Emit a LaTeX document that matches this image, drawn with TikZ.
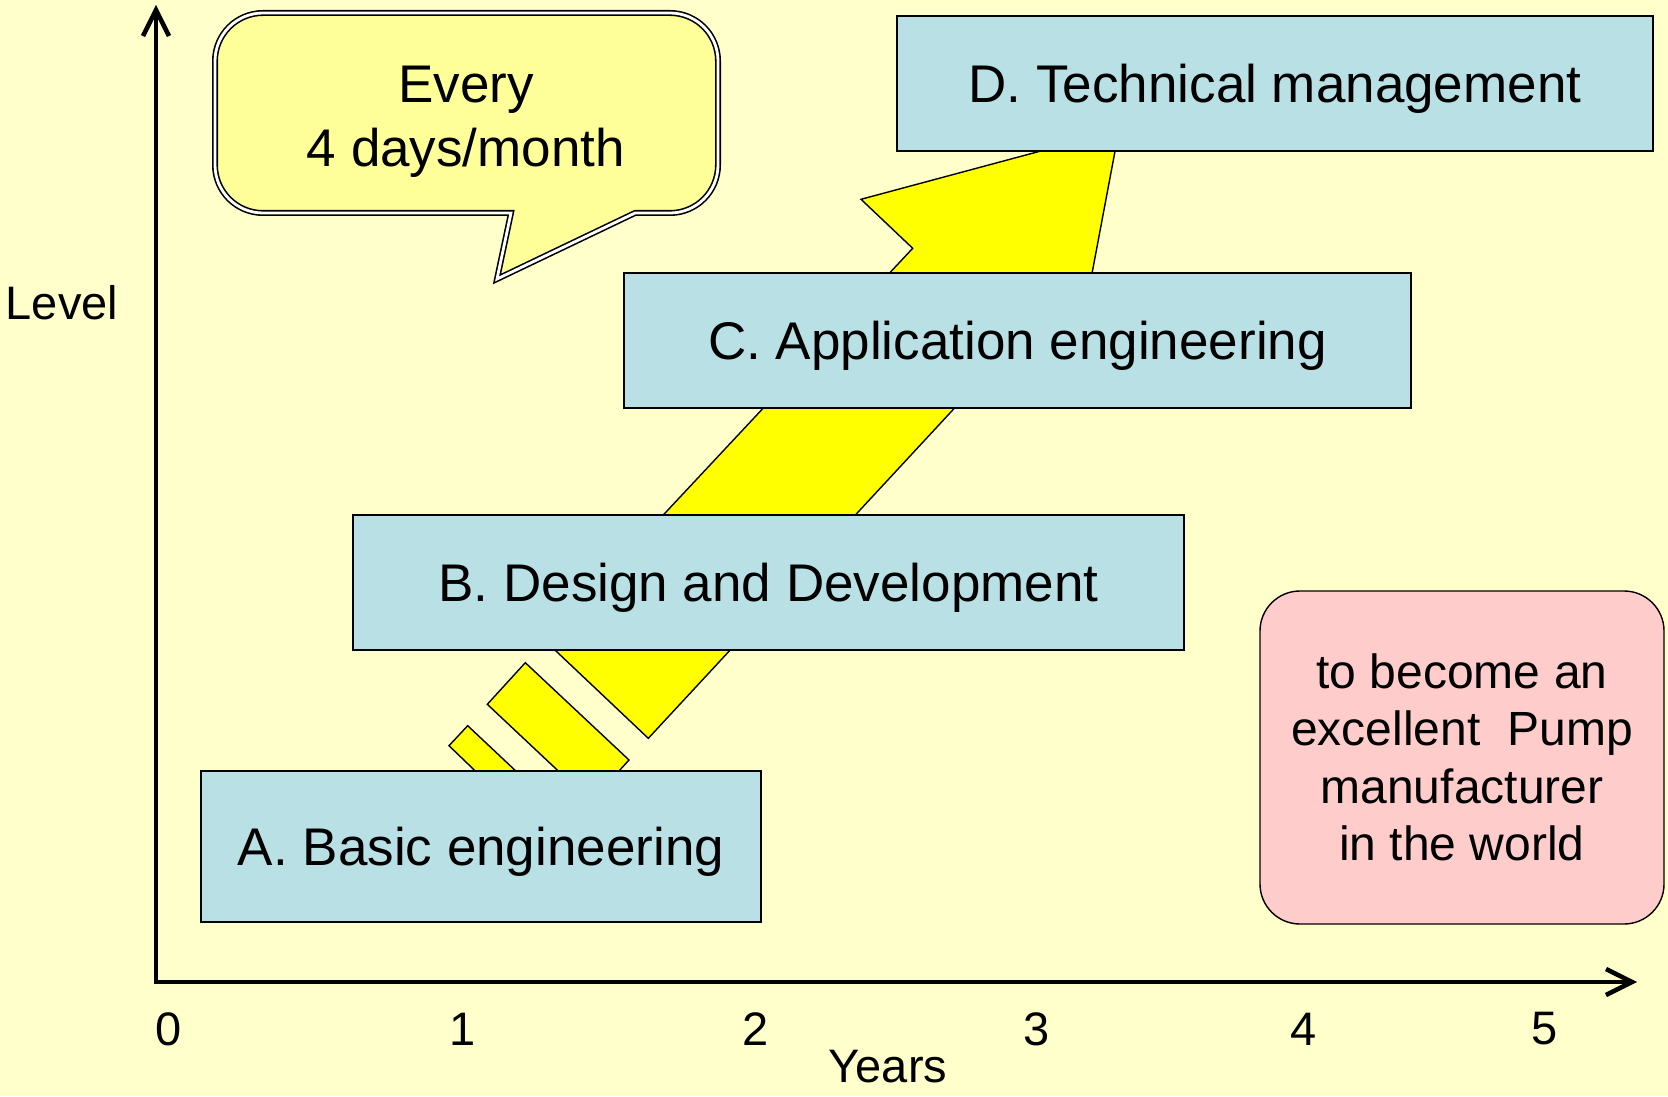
\documentclass[tikz,border=0pt]{standalone}
\usepackage{fontspec}
\setmainfont{Liberation Sans}
\usepackage{xcolor}
\usetikzlibrary{positioning,arrows.meta}

\definecolor{paper}{HTML}{FFFFCC}
\definecolor{stageblue}{HTML}{B9E0E4}
\definecolor{goalpink}{HTML}{FFCCCC}
\definecolor{notefill}{HTML}{FFFF99}
\definecolor{bandyellow}{HTML}{FFFF00}

\begin{document}
\begin{tikzpicture}[x=0.5pt, y=-0.5pt,
		stage/.style={rectangle, draw=black, fill=stageblue, line width=0.7pt, inner sep=0pt, text depth=0pt, font=\fontsize{26.5}{31.8}\selectfont},
		goal/.style={rectangle, rounded corners=20pt, draw=black, fill=goalpink, line width=0.7pt, inner sep=0pt, align=center, font=\fontsize{24}{28.7}\selectfont},
		band/.style={draw=black, fill=bandyellow, line width=0.7pt, line join=miter},
		axis/.style={line width=2.25pt, line join=miter, {Straight Barb[length=13pt,width=13pt]}-{Straight Barb[length=13pt,width=13pt]}},
		tick/.style={inner sep=0pt, font=\fontsize{23.5}{28}\selectfont},
		]
		%Background
		\path[use as bounding box, fill=paper] (0,0) rectangle (1668,1096);

		%Rising band (behind the stages)
		\draw[band] (449,745.7) -- (467.7,725.7) -- (536,790) -- (495,790) -- cycle;
		\draw[band] (487.3,704.3) -- (525.3,662.7) -- (629,760) -- (601.6,790) -- (578.5,790) -- cycle;
		\draw[band] (648.3,738.3) -- (962,400) -- (1087,300) -- (1119,130) -- (861,199.3) -- (912.7,248.3) -- (545.4,641) -- cycle;

		%Stages
		\node[stage, minimum width=280pt, minimum height=75.5pt]	(basic)	at (481,846.5)	{A. Basic engineering};
		\node[stage, minimum width=415.5pt, minimum height=67.5pt]	(design)	at (768.5,582.5)	{B. Design and Development};
		\node[stage, minimum width=393.5pt, minimum height=67.5pt]	(appl)	at (1017.5,340.5)	{C. Application engineering};
		\node[stage, minimum width=378pt, minimum height=67.5pt]	(tech)	at (1275,83.5)	{D. Technical management};

		%Goal
		\node[goal, minimum width=202pt, minimum height=166.5pt]	(goal)	at (1462,757.5)	{to become an\\excellent\ \ Pump\\manufacturer\\in the world};

		%Callout
		\draw[fill=notefill, double, double distance=1.4pt, line width=0.8pt]
			(635,213) [rounded corners=24pt] -- (718,213) -- (718,13) -- (215,13) -- (215,213) [sharp corners] -- (511,213) -- (497,279) -- cycle;
		\node[align=center, font=\fontsize{26.5}{31.8}\selectfont]	(note)	at (466,122)	{Every\\4 days/month};

		%Axes
		\coordinate (origin) at (156,982);
		\coordinate (ytip) at (156,5);
		\coordinate (xtip) at (1637,982);
		\draw[axis] (ytip) -- (origin) -- (xtip);
		\foreach \v/\px in {0/169,1/463,2/756,3/1037,4/1304,5/1545}
			\node[tick] (t\v) at (\px,1029) {\v};
		\node[tick]	(years)	at (888,1067)	{Years};
		\node[tick]	(level)	at (62,303)	{Level};
	\end{tikzpicture}
\end{document}
